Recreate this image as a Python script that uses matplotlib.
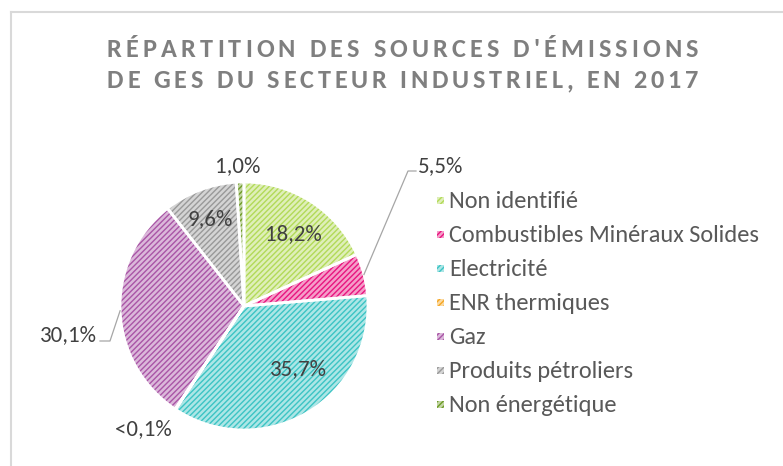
import numpy as np
import matplotlib
matplotlib.use("Agg")
import matplotlib.pyplot as plt
from matplotlib import font_manager
from matplotlib.font_manager import FontProperties
from matplotlib.textpath import TextPath
from matplotlib.patches import Rectangle
from matplotlib.colors import to_rgb

W, H = 783, 466

# émissions de GES du secteur industriel, 2017 (%)
sources = ["Non identifié", "Combustibles Minéraux Solides", "Electricité",
           "ENR thermiques", "Gaz", "Produits pétroliers", "Non énergétique"]
shares = [18.2, 5.5, 35.7, 0.05, 30.1, 9.6, 1.0]
colors = ["#b2da58", "#e8157f", "#3cc4c4", "#f5a623", "#a955a6", "#999999", "#6e9b26"]
title_lines = ["RÉPARTITION DES SOURCES D'ÉMISSIONS",
               "DE GES DU SECTEUR INDUSTRIEL, EN 2017"]

avail = {f.name for f in font_manager.fontManager.ttflist}
FONT = next(f for f in ["Carlito", "Liberation Sans Narrow", "Lato", "DejaVu Sans"] if f in avail)
plt.rcParams['font.family'] = [FONT, 'DejaVu Sans']
plt.rcParams['hatch.linewidth'] = 1.0
HATCH = '//////'

fig = plt.figure(figsize=(W / 100, H / 100), dpi=100)
ax = fig.add_axes([0, 0, 1, 1])
renderer = fig.canvas.get_renderer()


def Y(y):
    return H - y


def text_width(s, **kw):
    t = ax.text(0, 0, s, **kw)
    w = t.get_window_extent(renderer).width
    t.remove()
    return w


def fit_size(s, target, **kw):
    return 10 * target / text_width(s, fontsize=10, **kw)


def cap_size(px, weight='normal'):
    tp = TextPath((0, 0), "H", size=100, prop=FontProperties(family=FONT, weight=weight))
    cap = tp.get_extents().height / 100
    return px / cap * 0.72


def tracked_line(s, xc, yb, width, **kw):
    ref = text_width("I", **kw)
    starts = [text_width(s[:i] + "I", **kw) - ref for i in range(len(s))]
    natural = text_width(s, **kw)
    gap = (width - natural) / (len(s) - 1)
    x0 = xc - width / 2
    for i, ch in enumerate(s):
        if ch != " ":
            ax.text(x0 + starts[i] + i * gap, yb, ch, ha='left', va='baseline', **kw)


# pie
face = [tuple(0.42 * np.array(to_rgb(c)) + 0.58) for c in colors]
cx, cy, R = 244, Y(306), 124
wedges, _ = ax.pie(shares, colors=face, startangle=90, counterclock=False,
                   center=(cx, cy), radius=R, wedgeprops=dict(linewidth=0, hatch=HATCH))
for w, c in zip(wedges, colors):
    w.set_edgecolor(c)
    w.set_linewidth(0)
ax.pie(shares, startangle=90, counterclock=False, center=(cx, cy), radius=R,
       wedgeprops=dict(fill=False, edgecolor='white', linewidth=2.0))

ax.set_xlim(0, W)
ax.set_ylim(0, H)
ax.set_aspect('auto')
ax.axis('off')

# data labels
pct = ["<0,1%" if v < 0.1 else f"{v:.1f}".replace(".", ",") + "%" for v in shares]
label_xy = [(293, 232), (418, 164), (298, 367), (143, 427), (97, 333), (210, 217), (238, 164)]
label_ha = ['center', 'left', 'center', 'center', 'right', 'center', 'center']
leaders = {1: [(408, 171), (416, 171)], 4: [(110, 341), (100, 341)]}
lbl_size = fit_size("35,7%", 57)
for i, (w, t) in enumerate(zip(wedges, pct)):
    x, y = label_xy[i]
    ax.text(x, Y(y + 8), t, fontsize=lbl_size, color='#404040', ha=label_ha[i], va='baseline')
    if i in leaders:
        mid = np.deg2rad((w.theta1 + w.theta2) / 2)
        pts = [(cx + R * np.cos(mid), cy + R * np.sin(mid))] + [(px, Y(py)) for px, py in leaders[i]]
        xs, ys = zip(*pts)
        ax.plot(xs, ys, color='#a6a6a6', lw=0.9)

# legend
leg_size = fit_size(max(sources, key=len), 312)
for i, (name, c, f) in enumerate(zip(sources, colors, face)):
    yc = 200.5 + 34 * i
    ax.add_patch(Rectangle((437, Y(yc) - 3.5), 7, 7, facecolor=f, edgecolor=c, lw=0, hatch=HATCH))
    ax.text(449, Y(yc + 8), name, fontsize=leg_size, color='#595959', va='baseline')

# title
tsize = cap_size(17, 'bold')
tracked_line(title_lines[0], 402.5, Y(57), 591, fontsize=tsize, fontweight='bold', color='#7f7f7f')
tracked_line(title_lines[1], 402.5, Y(88), 591, fontsize=tsize, fontweight='bold', color='#7f7f7f')

# chart frame
ax.plot([11, 11], [Y(12), Y(470)], color='#d9d9d9', lw=1.5, clip_on=False, solid_capstyle='projecting')
ax.plot([11, 782], [Y(12), Y(12)], color='#d9d9d9', lw=1.5, clip_on=False, solid_capstyle='projecting')

fig.savefig("out.png", dpi=100)
